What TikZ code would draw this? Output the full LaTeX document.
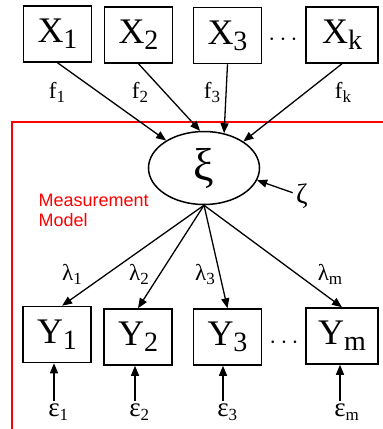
\documentclass[tikz,border=0pt]{standalone}
\usepackage{fontspec}
\setmainfont{Liberation Serif}
\newfontfamily\notefont{Liberation Sans}
\usetikzlibrary{shapes.geometric,arrows.meta}

\newcommand{\boxsub}[1]{\raisebox{-6pt}{\fontsize{28}{28}\selectfont #1}}
\newcommand{\lblsub}[1]{\raisebox{-4pt}{\fontsize{17}{17}\selectfont #1}}

\begin{document}
\begin{tikzpicture}[
    x=1pt, y=-1pt,
    var/.style={rectangle, draw=black, line width=1.5pt, minimum width=68pt, minimum height=56pt, inner sep=0pt, font=\fontsize{36}{40}\selectfont},
    latent/.style={ellipse, draw=black, line width=1.5pt, minimum width=111pt, minimum height=73pt, inner sep=0pt, font=\fontsize{46}{48}\selectfont},
    coef/.style={font=\fontsize{23}{25}\selectfont, inner sep=1pt},
    errlbl/.style={font=\fontsize{27}{28}\selectfont, inner sep=2pt},
    arrow/.style={-{Triangle[length=10pt,width=8pt]}, line width=1.3pt},
]
\clip (0,0) rectangle (383,429);

% Measurement model frame
\draw[red, line width=2pt] (12,122) rectangle (420,470);
\node[red, anchor=west, align=left, font=\notefont\fontsize{18}{20}\selectfont] (mm) at (35,210) {Measurement\\Model};

% Causes
\node[var] (x1) at (57.5,34) {X\boxsub{1}};
\node[var] (x2) at (138.5,35) {X\boxsub{2}};
\node[var] (x3) at (227.5,35.5) {X\boxsub{3}};
\node[var, minimum width=72pt] (xk) at (342,35) {X\boxsub{k}};
\node[coef] (xdots) at (283,40) {$\cdots$};

% Latent variable
\node[latent] (xi) at (204,168) {ξ};
\node[font=\fontsize{28}{30}\selectfont] (zeta) at (302,196) {ζ};
\draw[arrow] (zeta) -- (xi.-13);

\draw[arrow] (x1.south) -- (xi.144);
\draw[arrow] (x2.south) -- (xi.96);
\draw[arrow] (x3.south) -- (xi.60);
\draw[arrow] (xk.south) -- (xi.34);

\node[coef] (f1) at (57,92) {f\lblsub{1}};
\node[coef] (f2) at (140,92) {f\lblsub{2}};
\node[coef] (f3) at (212,92) {f\lblsub{3}};
\node[coef] (fk) at (343,92) {f\lblsub{k}};

% Indicators
\node[var] (y1) at (57,334.5) {Y\boxsub{1}};
\node[var] (y2) at (138,337) {Y\boxsub{2}};
\node[var] (y3) at (227.5,337) {Y\boxsub{3}};
\node[var, minimum width=72pt] (ym) at (342,336) {Y\boxsub{m}};
\node[coef] (ydots) at (284,343) {$\cdots$};

\draw[arrow] (xi.south) -- (y1.80);
\draw[arrow] (xi.south) -- (y2.north);
\draw[arrow] (xi.south) -- (y3.north);
\draw[arrow] (xi.south) -- (ym.north);

\node[coef] (l1) at (72,274) {λ\lblsub{1}};
\node[coef] (l2) at (139,274) {λ\lblsub{2}};
\node[coef] (l3) at (205,274) {λ\lblsub{3}};
\node[coef] (lm) at (330,274) {λ\lblsub{m}};

% Errors
\node[errlbl] (e1) at (54,412) {ε\rlap{\lblsub{1}}};
\node[errlbl] (e2) at (135,412) {ε\rlap{\lblsub{2}}};
\node[errlbl] (e3) at (223,412) {ε\rlap{\lblsub{3}}};
\node[errlbl] (em) at (340,412) {ε\rlap{\lblsub{m}}};
\draw[arrow] (e1) -- (e1 |- y1.south);
\draw[arrow] (e2) -- (e2 |- y2.south);
\draw[arrow] (e3) -- (e3 |- y3.south);
\draw[arrow] (em) -- (em |- ym.south);
\end{tikzpicture}
\end{document}
